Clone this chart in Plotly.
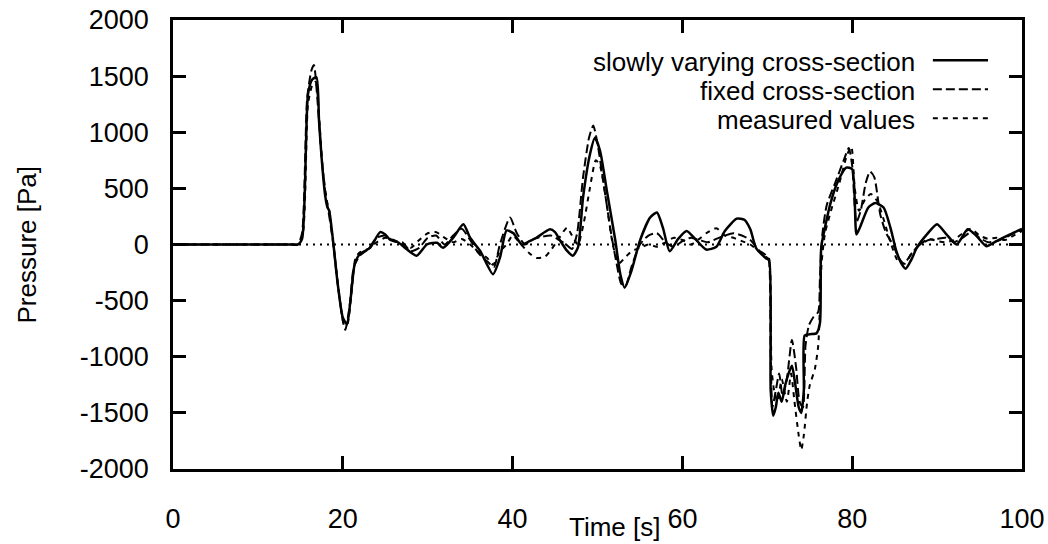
import plotly.graph_objects as go

# ---- data ----
t_slow = [0, 10, 14.0, 14.7, 15.2, 15.9, 16.4, 16.9, 17.2, 17.5, 17.9, 18.2, 18.4, 18.9, 19.4, 20.0, 20.5, 20.9,
          21.4, 22.0, 23.2, 24.4, 25.0, 25.6, 26.5, 27.5, 28.7, 29.9, 31.1, 31.8, 33.0, 34.2, 35.0,
          36.2, 37.7, 38.5, 39.3, 40.1, 41.1, 42.0, 42.8, 44.4, 45.0, 45.6, 46.4, 47.1, 47.7, 48.3,
          49.1, 49.7, 50.3, 51.1, 52.1, 52.7, 53.2, 54.0, 55.0, 56.2, 57.0, 57.7, 58.5, 59.5, 60.5,
          61.5, 62.8, 64.0, 65.0, 66.4, 67.3, 68.0, 68.7, 69.9, 70.2, 70.4, 70.7, 71.0, 71.3, 71.7,
          72.1, 72.5, 72.9, 73.3, 73.7, 74.0, 74.3, 74.4, 75.0, 75.8, 76.2, 76.3, 76.4, 77.4, 78.3,
          79.3, 80.0, 80.5, 80.9, 81.9, 82.7, 83.7, 84.5, 85.2, 85.8, 86.3, 87.0, 87.6, 88.8, 90.0,
          91.1, 92.3, 93.6, 94.6, 95.8, 97.0, 98.6, 100]
p_slow = [0, 0, 0, 0, 50, 1340, 1470, 1490, 1100, 775, 450, 330, 300, 0, -350, -650, -710, -500,
          -175, -86, -30, 110, 90, 40, 20, -40, -100, 0, 15, -30, 60, 180, 60,
          -60, -265, -120, 125, 100, 0, 30, 60, 135, 110, 35, -55, -100, -25, 420,
          800, 950, 835, 480, 35, -270, -385, -235, 35, 240, 285, 150, -60, 50, 120,
          50, -45, -20, 120, 230, 220, 135, -35, -125, -130, -1300, -1525, -1450, -1320, -1400,
          -1255, -1150, -1080, -1250, -1450, -1500, -1300, -810, -800, -790, -700, -100, 0, 355, 560,
          685, 670, 90, 150, 330, 370, 330, 150, -60, -170, -215, -130, -30, 90, 180,
          90, 0, 135, 80, -15, 30, 90, 140]

t_fixed = [0, 10, 14.0, 14.7, 15.2, 15.8, 16.3, 16.6, 17.0, 17.5, 18.0, 18.3, 18.8, 19.4, 20.0, 20.3, 20.8,
           21.3, 22, 23, 24, 25, 26, 27, 28, 29, 30, 31, 32, 33, 34, 35, 36, 37, 37.8, 38.5, 39.7,
           40.5, 41.5, 42.5, 43.5, 44.5, 45.5, 46.3, 47, 47.6, 48.3, 49.0, 49.5, 50.0, 50.8, 51.6,
           52.2, 52.8, 53.3, 54, 55, 56, 57, 58, 59, 60, 61, 62, 63, 64, 65, 66, 67, 68, 69, 69.9,
           70.2, 70.4, 70.6, 71.0, 71.4, 71.8, 72.3, 72.9, 73.4, 73.8, 74.2, 74.5, 74.9, 75.4, 76.0,
           76.2, 76.5, 77, 78, 79, 79.6, 80.0, 80.5, 81.0, 81.6, 82.1, 82.6, 83.3, 84.0, 84.8, 85.5,
           86.1, 87, 88, 89, 90, 91, 92, 93, 94, 95, 96, 97, 98, 99, 100]
p_fixed = [0, 0, 0, 0, 100, 1300, 1550, 1600, 1300, 780, 420, 300, 50, -350, -680, -760, -550,
           -200, -100, -40, 60, 80, 30, 20, -60, -30, 60, 80, 0, 80, 140, 40, -80, -150, -200, 0, 240,
           100, 0, 50, 70, 80, 40, 0, -40, 100, 600, 950, 1060, 900, 500, 100,
           -150, -350, -370, -200, 0, 80, 100, 20, -20, 30, 60, 40, 20, 50, 80, 100, 80, 40, -50, -100,
           -150, -1000, -1450, -1300, -1150, -1350, -1200, -850, -1100, -1400, -1450, -900, -720, -650, -600,
           -300, 100, 350, 550, 750, 860, 700, 200, 300, 550, 650, 600, 270, 100, 0, -120,
           -170, -80, 0, 40, 50, 60, 20, 60, 110, 60, 20, 30, 60, 100, 130]

t_meas = [0, 10, 14.0, 14.7, 15.3, 15.9, 16.4, 16.8, 17.2, 17.6, 18.1, 18.4, 18.9, 19.5, 20.1, 20.5, 21, 21.5,
          22, 23, 24, 25, 26, 27, 28, 29, 30, 31, 32, 33, 34, 35, 36, 37, 37.7, 38.5, 39.3, 40, 41,
          42, 42.8, 43.8, 44.6, 45.5, 46.4, 47, 47.7, 48.4, 49.1, 49.8, 50.3, 51, 51.8, 52.5, 53.2,
          54, 55, 56, 57, 58, 59, 60, 61, 62, 62.8, 64, 65, 66, 67, 68, 69, 70, 70.3, 70.5, 70.8,
          71.2, 71.7, 72.3, 72.8, 73.2, 73.7, 74.0, 74.3, 74.7, 75.0, 75.6, 76.0, 76.4, 76.8, 77.5,
          78.5, 79.4, 79.9, 80.3, 80.8, 81.5, 82.2, 83, 83.8, 84.6, 85.4, 86.2, 87, 88, 89, 90, 91,
          92, 93, 94, 95, 96, 97, 98, 99, 100]
p_meas = [0, 0, 0, 0, 100, 1250, 1420, 1450, 1150, 700, 400, 300, 0, -400, -700, -720, -450, -120,
          -70, -40, 20, 60, 40, 0, -30, 40, 100, 110, 60, 20, 50, 0, -70, -120, -180, -60, 0, 80, 0,
          -80, -120, -110, -40, 60, 150, 80, 0, 200, 500, 750, 700, 400, 0, -170, -120,
          -60, -30, 0, -20, 20, 60, 40, 0, 50, 100, 145, 80, 60, 30, 0, -60, -120, -200, -1100, -1300,
          -1400, -1200, -1400, -1150, -1400, -1700, -1830, -1700, -1400, -1255, -1110, -900, -160, 100, 300,
          550, 800, 870, 500, 300, 400, 450, 380, 200, 0, -150, -170, -80, 0, 50, 30, 20,
          40, 100, 140, 80, 50, 60, 40, 80, 120]

x_ticks = [0, 20, 40, 60, 80, 100]
y_ticks = [-2000, -1500, -1000, -500, 0, 500, 1000, 1500, 2000]
series_names = ["slowly varying cross-section", "fixed cross-section", "measured values"]

FONT = "Liberation Sans, Arial, Helvetica, sans-serif"
FS_TICK = 27
FS_LEG = 26

SMOOTH = 0.6
fig = go.Figure()
fig.add_trace(go.Scatter(x=t_slow, y=p_slow, mode="lines", name=series_names[0],
                         line=dict(color="black", width=2.5, shape="spline", smoothing=SMOOTH),
                         showlegend=False))
fig.add_trace(go.Scatter(x=t_fixed, y=p_fixed, mode="lines", name=series_names[1],
                         line=dict(color="black", width=2, dash="9px,4px", shape="spline",
                                   smoothing=SMOOTH), showlegend=False))
fig.add_trace(go.Scatter(x=t_meas, y=p_meas, mode="lines", name=series_names[2],
                         line=dict(color="black", width=2, dash="5px,5px", shape="spline",
                                   smoothing=SMOOTH), showlegend=False))

# dotted zero reference line
fig.add_shape(type="line", xref="x", yref="y", x0=0, x1=100, y0=0, y1=0,
              line=dict(color="black", width=1.8, dash="2px,5px"), layer="below")

# legend (text right-aligned, sample to the right) drawn in paper coordinates
rows_y = [0.9065, 0.8419, 0.7773]
dashes = ["solid", "9px,4px", "5px,5px"]
widths = [2.5, 2, 2]
for name, yy, d, w in zip(series_names, rows_y, dashes, widths):
    fig.add_annotation(x=0.876, y=yy, xref="paper", yref="paper", text=name,
                       showarrow=False, xanchor="right", yanchor="middle",
                       font=dict(family=FONT, size=FS_LEG, color="black"))
    fig.add_shape(type="line", xref="paper", yref="paper", x0=0.895, x1=0.960,
                  y0=yy + 0.004, y1=yy + 0.004, line=dict(color="black", width=w, dash=d))

# axis titles
fig.add_annotation(x=0.520, y=-0.130, xref="paper", yref="paper", text="Time [s]",
                   showarrow=False, xanchor="center", yanchor="middle",
                   font=dict(family=FONT, size=26, color="black"))
fig.add_annotation(x=-0.172, y=0.5, xref="paper", yref="paper", text="Pressure [Pa]",
                   showarrow=False, xanchor="center", yanchor="middle", textangle=-90,
                   font=dict(family=FONT, size=26, color="black"))

fig.update_layout(
    width=1048, height=544,
    margin=dict(l=173, r=26, t=20, b=75),
    paper_bgcolor="white", plot_bgcolor="white",
    font=dict(family=FONT, size=FS_TICK, color="black"),
    showlegend=False,
)
fig.update_xaxes(range=[0, 100], tickvals=x_ticks, ticktext=[str(v) for v in x_ticks],
                 automargin=False,
                 showgrid=False, zeroline=False, showline=True, linecolor="black", linewidth=2.5,
                 mirror="ticks", ticks="inside", ticklen=13, tickwidth=2.5, tickcolor="black",
                 ticklabelstandoff=24, tickfont=dict(family=FONT, size=FS_TICK, color="black"))
fig.update_yaxes(range=[-2000, 2000], tickvals=y_ticks, ticktext=[str(v) for v in y_ticks],
                 automargin=False,
                 showgrid=False, zeroline=False, showline=True, linecolor="black", linewidth=2.5,
                 mirror="ticks", ticks="inside", ticklen=13, tickwidth=2.5, tickcolor="black",
                 ticklabelstandoff=16, tickfont=dict(family=FONT, size=FS_TICK, color="black"))

fig.write_html("out.html")
